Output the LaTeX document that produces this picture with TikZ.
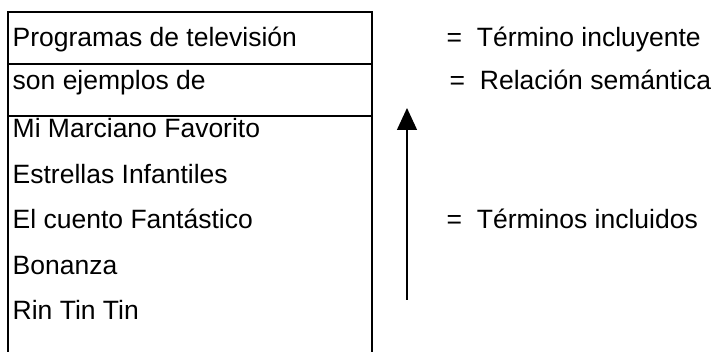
\documentclass[tikz,border=0pt]{standalone}
\usepackage{fontspec}
\setmainfont{Liberation Sans}
\usetikzlibrary{arrows.meta}

\begin{document}
\begin{tikzpicture}[x=1pt, y=-1pt, line width=1.4pt,
  txt/.style={anchor=base west, inner sep=0pt, font=\fontsize{26.5}{30}\selectfont}]
\useasboundingbox (0,0) rectangle (716,352);
\draw (8,352)--(8,12)--(372,12)--(372,352);
\draw (8,64)--(372,64);
\draw (8,116)--(372,116);
\node[txt] (incluyente) at (12,47) {Programas de televisión};
\node[txt] (relacion) at (12,90) {son ejemplos de};
\node[txt] (marciano) at (12,138) {Mi Marciano Favorito};
\node[txt] (estrellas) at (12,183.5) {Estrellas Infantiles};
\node[txt] (cuento) at (12,229) {El cuento Fantástico};
\node[txt] (bonanza) at (12,274.5) {Bonanza};
\node[txt] (rintintin) at (12,320) {Rin Tin Tin};
\coordinate (abajo) at (407,300);
\coordinate (arriba) at (407,108);
\draw[-{Triangle[width=20pt,length=22pt]}] (abajo)--(arriba);
\node[txt] (termino) at (446,47) {=~~Término incluyente};
\node[txt] (semantica) at (449,90) {=~~Relación semántica};
\node[txt] (incluidos) at (446,229) {=~~Términos incluidos};
\end{tikzpicture}
\end{document}
